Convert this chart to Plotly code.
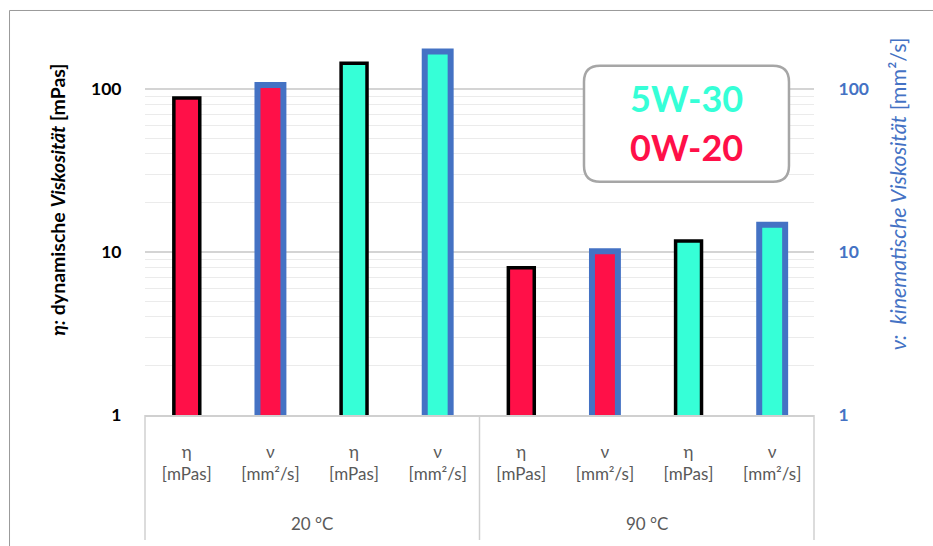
import plotly.graph_objects as go

# Measured viscosities of two engine oils at two temperatures
temperatures = ["20 °C", "90 °C"]
oils = ["0W-20", "5W-30"]
quantities = ["η", "ν"]
quantity_labels = {"η": "η<br>[mPas]", "ν": "ν<br>[mm²/s]"}

eta_0w20 = [88, 8.0]     # dynamic viscosity [mPas]
nu_0w20 = [106, 10.1]    # kinematic viscosity [mm²/s]
eta_5w30 = [144, 11.7]
nu_5w30 = [170, 14.7]

oil_colors = {"0W-20": "#FF1048", "5W-30": "#36FFD7"}
outline_colors = {"η": "#000000", "ν": "#4472C4"}
outline_widths = {"η": 3.5, "ν": 6}
axis_blue = "#4472C4"
label_gray = "#595959"
FONT = "Lato, 'Noto Sans', sans-serif"

# one category slot per (temperature, oil, quantity), in drawing order
def slot(t, oil, q):
    return f"{t} | {oil} | {q}"

slots = [slot(t, o, q) for t in temperatures for o in oils for q in quantities]
slot_text = [quantity_labels[s.split(" | ")[2]] for s in slots]

series = {
    ("0W-20", "η"): eta_0w20,
    ("0W-20", "ν"): nu_0w20,
    ("5W-30", "η"): eta_5w30,
    ("5W-30", "ν"): nu_5w30,
}

fig = go.Figure()
for (oil, q), values in series.items():
    fig.add_trace(go.Bar(
        x=[slot(t, oil, q) for t in temperatures],
        y=values,
        name=f"{oil} {q}",
        yaxis="y" if q == "η" else "y2",
        marker=dict(color=oil_colors[oil],
                    line=dict(color=outline_colors[q], width=outline_widths[q])),
        showlegend=False,
    ))

log_top = 2.30103  # log10(200)
minor_vals = [m * d for d in (1, 10, 100) for m in range(2, 10) if m * d <= 200]

fig.update_layout(
    width=933, height=546,
    margin=dict(l=145, r=119, t=40, b=131),
    paper_bgcolor="white", plot_bgcolor="white",
    barmode="overlay", bargap=0.69,
    font=dict(family=FONT),
    xaxis=dict(
        type="category", categoryorder="array", categoryarray=slots,
        tickmode="array", tickvals=slots, ticktext=slot_text,
        tickfont=dict(size=17, color=label_gray, family=FONT),
        ticks="outside", ticklen=21, tickcolor="rgba(0,0,0,0)",
        showline=True, linecolor="#D0D0D0", linewidth=1.5,
        showgrid=False, range=[-0.5, 7.5],
    ),
    yaxis=dict(
        type="log", range=[0, log_top],
        tickmode="array", tickvals=[1, 10, 100], ticktext=["1", "10", "100"],
        tickfont=dict(size=17.5, color="#000000", family=FONT, weight="bold"),
        ticks="outside", ticklen=19, tickcolor="rgba(0,0,0,0)",
        showgrid=True, gridcolor="#D4D4D4", gridwidth=1.5,
        minor=dict(tickmode="array", tickvals=minor_vals, showgrid=True,
                   gridcolor="#EBEBEB", gridwidth=1.2, ticks=""),
        zeroline=False, showline=False,
    ),
    yaxis2=dict(
        type="log", range=[0, log_top], overlaying="y", side="right",
        tickmode="array", tickvals=[1, 10, 100], ticktext=["1", "10", "100"],
        tickfont=dict(size=17.5, color=axis_blue, family=FONT, weight="bold"),
        ticks="outside", ticklen=20, tickcolor="rgba(0,0,0,0)",
        showgrid=False, zeroline=False, showline=False,
    ),
)

# axis titles
fig.add_annotation(
    text="<b><i>η:</i> dynamische <i>Viskosität</i> [mPas]</b>",
    xref="paper", yref="paper", x=-0.131, y=0.575, textangle=-90,
    xanchor="center", yanchor="middle",
    showarrow=False, font=dict(size=19.5, color="#000000", family=FONT),
)
fig.add_annotation(
    text="<i>ν:  kinematische Viskosität</i> [mm²/s]",
    xref="paper", yref="paper", x=1.1256, y=0.589, textangle=-90,
    xanchor="center", yanchor="middle",
    showarrow=False, font=dict(size=21.5, color=axis_blue, family=FONT),
)

# temperature group labels under the quantity labels
for i, t in enumerate(temperatures):
    fig.add_annotation(
        text=t, xref="x", yref="paper", x=1.5 + 4 * i, y=-0.288,
        xanchor="center", yanchor="middle",
        showarrow=False, font=dict(size=17, color=label_gray, family=FONT),
    )

# category box dividers
for xp in (0, 0.5, 1):
    fig.add_shape(type="line", xref="paper", yref="paper",
                  x0=xp, x1=xp, y0=0, y1=-0.3333,
                  line=dict(color="#D0D0D0", width=1.5))

# outer chart frame (left and top edges)
fig.add_shape(type="line", xref="paper", yref="paper",
              x0=-0.2025, x1=-0.2025, y0=1.0787, y1=-0.5,
              line=dict(color="#9A9A9A", width=1))
fig.add_shape(type="line", xref="paper", yref="paper",
              x0=-0.2025, x1=1.3, y0=1.0787, y1=1.0787,
              line=dict(color="#9A9A9A", width=1))

# rounded legend box
bx0, bx1, by0, by1 = 0.6562, 0.9626, 0.6221, 0.9315
rx, ry = 16 / 669, 16 / 375
box_path = (
    f"M {bx0 + rx} {by1} L {bx1 - rx} {by1} Q {bx1} {by1} {bx1} {by1 - ry} "
    f"L {bx1} {by0 + ry} Q {bx1} {by0} {bx1 - rx} {by0} "
    f"L {bx0 + rx} {by0} Q {bx0} {by0} {bx0} {by0 + ry} "
    f"L {bx0} {by1 - ry} Q {bx0} {by1} {bx0 + rx} {by1} Z"
)
fig.add_shape(type="path", path=box_path, xref="paper", yref="paper",
              fillcolor="white", line=dict(color="#A6A6A6", width=2.5),
              layer="above")
for oil, yp in (("5W-30", 0.8445), ("0W-20", 0.7155)):
    fig.add_annotation(
        text=f"<b>{oil}</b>", xref="paper", yref="paper",
        x=(bx0 + bx1) / 2, y=yp, xanchor="center", yanchor="middle",
        showarrow=False,
        font=dict(size=36, color=oil_colors[oil], family=FONT),
    )

fig.write_html("out.html")
